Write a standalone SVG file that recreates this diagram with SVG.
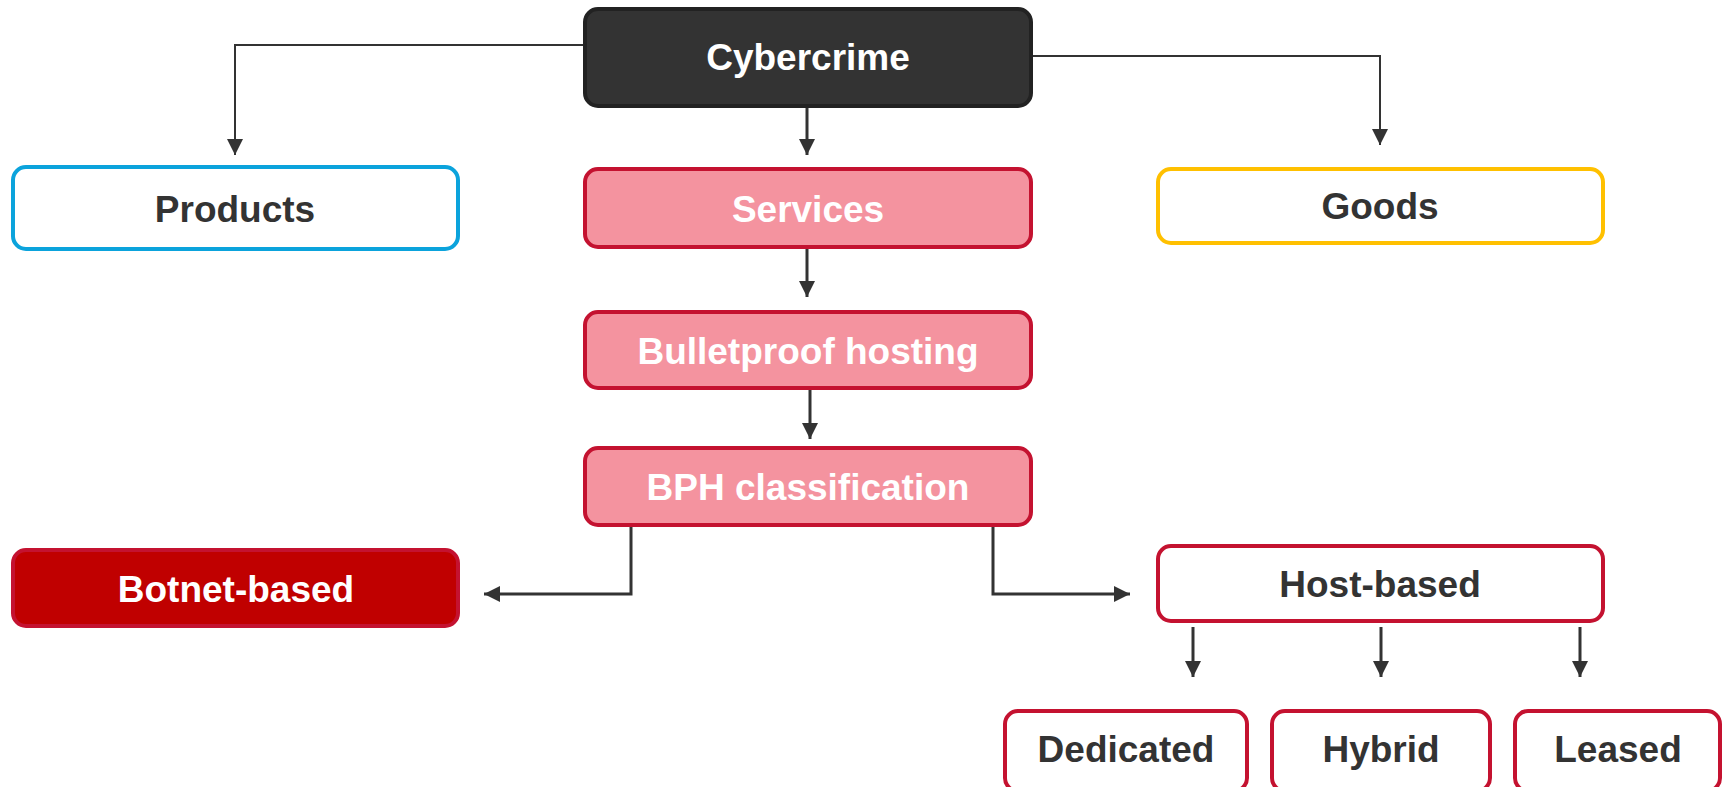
<svg xmlns="http://www.w3.org/2000/svg" width="1722" height="787" viewBox="0 0 1722 787">
<style>
.box{stroke-width:4}
.red{fill:#fff;stroke:#C41230}
.pink{fill:#F4939F;stroke:#C41230}
.t{font-family:"Liberation Sans",Arial,sans-serif;font-weight:bold;font-size:37px;text-anchor:middle}
.w{fill:#fff}
.d{fill:#333}
.c{fill:none;stroke:#333;stroke-width:3}
.thin{stroke-width:2}
</style>
<defs>
<marker id="ah" viewBox="0 0 16 16" refX="16" refY="8" markerWidth="16" markerHeight="16" markerUnits="userSpaceOnUse" orient="auto">
<path d="M0,0 L16,8 L0,16 z" fill="#333"/>
</marker>
</defs>
<rect width="1722" height="787" fill="#fff"/>
<g id="connectors">
<path class="c thin" d="M583,45 H235 V155" marker-end="url(#ah)"/>
<path class="c thin" d="M1032,56 H1380 V145" marker-end="url(#ah)"/>
<path class="c" d="M807,107 V155" marker-end="url(#ah)"/>
<path class="c" d="M807,248 V297" marker-end="url(#ah)"/>
<path class="c" d="M810,389 V439" marker-end="url(#ah)"/>
<path class="c" d="M631,526 V594 H484" marker-end="url(#ah)"/>
<path class="c" d="M993,526 V594 H1130" marker-end="url(#ah)"/>
<path class="c" d="M1193,627 V677" marker-end="url(#ah)"/>
<path class="c" d="M1381,627 V677" marker-end="url(#ah)"/>
<path class="c" d="M1580,627 V677" marker-end="url(#ah)"/>
</g>
<g id="cybercrime">
<rect class="box" x="585" y="9" width="446" height="97" rx="13" fill="#333" stroke="#222"/>
<text class="t w" x="808" y="70">Cybercrime</text>
</g>
<g id="products">
<rect class="box" x="13" y="167" width="445" height="82" rx="13" fill="#fff" stroke="#0BA3DC"/>
<text class="t d" x="235" y="222">Products</text>
</g>
<g id="services">
<rect class="box pink" x="585" y="169" width="446" height="78" rx="13"/>
<text class="t w" x="808" y="222">Services</text>
</g>
<g id="goods">
<rect class="box" x="1158" y="169" width="445" height="74" rx="13" fill="#fff" stroke="#FFC000"/>
<text class="t d" x="1380" y="219">Goods</text>
</g>
<g id="bulletproof">
<rect class="box pink" x="585" y="312" width="446" height="76" rx="13"/>
<text class="t w" x="808" y="364">Bulletproof hosting</text>
</g>
<g id="bph">
<rect class="box pink" x="585" y="448" width="446" height="77" rx="13"/>
<text class="t w" x="808" y="500">BPH classification</text>
</g>
<g id="botnet">
<rect class="box" x="13" y="550" width="445" height="76" rx="13" fill="#C00000" stroke="#C41230"/>
<text class="t w" x="236" y="602">Botnet-based</text>
</g>
<g id="hostbased">
<rect class="box red" x="1158" y="546" width="445" height="75" rx="13"/>
<text class="t d" x="1380" y="597">Host-based</text>
</g>
<g id="dedicated">
<rect class="box red" x="1005" y="711" width="242" height="80" rx="13"/>
<text class="t d" x="1126" y="762">Dedicated</text>
</g>
<g id="hybrid">
<rect class="box red" x="1272" y="711" width="218" height="80" rx="13"/>
<text class="t d" x="1381" y="762">Hybrid</text>
</g>
<g id="leased">
<rect class="box red" x="1515" y="711" width="205" height="80" rx="13"/>
<text class="t d" x="1618" y="762">Leased</text>
</g>
</svg>
